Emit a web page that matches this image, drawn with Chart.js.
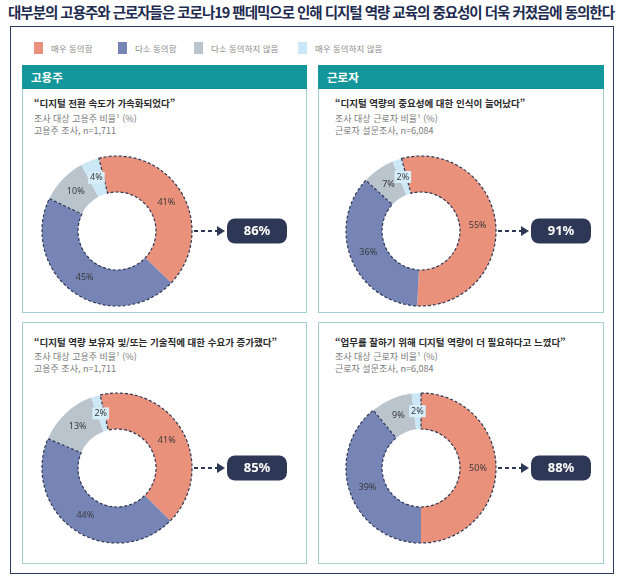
<!DOCTYPE html>
<html lang="ko">
<head>
<meta charset="utf-8">
<script src="https://cdn.jsdelivr.net/npm/chart.js@4.4.1/dist/chart.umd.min.js"></script>
<style>
  body { margin: 0; width: 628px; height: 586px; position: relative; background: #fff; font-family: 'Noto Sans CJK KR', 'Noto Sans', sans-serif; overflow: hidden; }
  #title { position: absolute; left: 8px; top: 1px; font-size: 14.5px; font-weight: bold; color: #1d2b4f; letter-spacing: 0px; white-space: nowrap; }
  #frame { position: absolute; left: 10px; top: 26px; width: 604px; height: 548px; border: 1.5px solid #2c3a5c; box-sizing: border-box; }
  .lg-sw { position: absolute; top: 42px; width: 9px; height: 12px; }
  .lg-tx { position: absolute; top: 41px; font-size: 8.5px; line-height: 14px; color: #8a8a8a; white-space: nowrap; }
  .panel { position: absolute; border: 1px solid #a3d0d2; box-sizing: border-box; }
  .head { height: 24px; background: #14979a; color: #fff; font-weight: bold; font-size: 11.5px; line-height: 24px; padding-left: 9px; margin: -1px -1px 0 -1px; }
  .q { position: absolute; font-size: 9.5px; font-weight: bold; color: #2a2a2a; line-height: 13px; white-space: nowrap; }
  .s { position: absolute; font-size: 9px; color: #7a7a7a; line-height: 12px; white-space: nowrap; }
  canvas { position: absolute; }
</style>
</head>
<body>
<div id="title">대부분의 고용주와 근로자들은 코로나19 팬데믹으로 인해 디지털 역량 교육의 중요성이 더욱 커졌음에 동의한다</div>
<div id="frame"></div>

<div class="panel" style="left:22px;top:65px;width:285px;height:248px;"><div class="head">고용주</div></div>
<div class="panel" style="left:318px;top:65px;width:286px;height:248px;"><div class="head">근로자</div></div>
<div class="panel" style="left:22px;top:322px;width:285px;height:242px;"></div>
<div class="panel" style="left:318px;top:322px;width:286px;height:242px;"></div>

<div class="q" style="left:34px;top:97px;">“디지털 전환 속도가 가속화되었다”</div>
<div class="s" style="left:34px;top:113px;">조사 대상 고용주 비율¹ (%)<br>고용주 조사, n=1,711</div>

<div class="q" style="left:335px;top:97px;">“디지털 역량의 중요성에 대한 인식이 늘어났다”</div>
<div class="s" style="left:335px;top:113px;">조사 대상 근로자 비율¹ (%)<br>근로자 설문조사, n=6,084</div>

<div class="q" style="left:34px;top:336px;">“디지털 역량 보유자 및/또는 기술직에 대한 수요가 증가했다”</div>
<div class="s" style="left:34px;top:351px;">조사 대상 고용주 비율¹ (%)<br>고용주 조사, n=1,711</div>

<div class="q" style="left:335px;top:336px;">“업무를 잘하기 위해 디지털 역량이 더 필요하다고 느꼈다”</div>
<div class="s" style="left:335px;top:351px;">조사 대상 근로자 비율¹ (%)<br>근로자 설문조사, n=6,084</div>

<canvas id="c1" width="285" height="160" style="left:22px;top:150px;"></canvas>
<canvas id="c2" width="286" height="160" style="left:318px;top:150px;"></canvas>
<canvas id="c3" width="285" height="165" style="left:22px;top:387px;"></canvas>
<canvas id="c4" width="286" height="165" style="left:318px;top:387px;"></canvas>

<script>
// ---- data ----
const categories = ['매우 동의함', '다소 동의함', '다소 동의하지 않음', '매우 동의하지 않음'];
const employerSpeed   = [41, 45, 10, 4];   // 디지털 전환 속도가 가속화되었다
const workerAwareness = [55, 36, 7, 2];    // 디지털 역량의 중요성에 대한 인식
const employerDemand  = [41, 44, 13, 2];   // 디지털 역량 보유자 수요 증가
const workerNeed      = [50, 39, 9, 2];    // 디지털 역량이 더 필요
const agreeTotals     = [86, 91, 85, 88];  // 동의 합계 (as printed)

const sliceColors = ['#E9917A', '#7685B6', '#BAC4CD', '#CCE7F6'];
const NAVY = '#2e3856';

// squeeze the title into the frame width
const title = document.getElementById('title');
const titleW = title.getBoundingClientRect().width;
title.style.letterSpacing = ((606 - titleW) / title.textContent.length) + 'px';

/* ================================================================
   LEGEND
   ================================================================ */
const legendLeft = [34, 118, 194, 298];
categories.forEach((name, i) => {
    const sw = document.createElement('div');
    sw.className = 'lg-sw';
    sw.style.left = legendLeft[i] + 'px';
    sw.style.background = sliceColors[i];
    document.body.appendChild(sw);
    const tx = document.createElement('div');
    tx.className = 'lg-tx';
    tx.style.left = (legendLeft[i] + 17) + 'px';
    tx.textContent = name;
    document.body.appendChild(tx);
});

/* ================================================================
   DONUT DECORATION: dashed outline, % labels, arrow + total box
   ================================================================ */
const donutDecor = {
    id: 'donutDecor',
    afterDatasetsDraw(chart, args, opts) {
        const ctx = chart.ctx;
        const arcs = chart.getDatasetMeta(0).data;
        const values = chart.data.datasets[0].data;
        const keys = ['x', 'y', 'startAngle', 'endAngle', 'innerRadius', 'outerRadius'];
        const a0 = arcs[0].getProps(keys, true);
        const a1 = arcs[1].getProps(keys, true);

        ctx.save();
        // dashed outline round the "agree" slices
        ctx.setLineDash([3, 2]);
        ctx.lineWidth = 1.2;
        ctx.strokeStyle = NAVY;
        ctx.beginPath();
        ctx.arc(a0.x, a0.y, a0.outerRadius, a0.startAngle, a1.endAngle);
        ctx.arc(a0.x, a0.y, a0.innerRadius, a1.endAngle, a0.startAngle, true);
        ctx.closePath();
        ctx.stroke();
        ctx.setLineDash([]);

        // percent labels
        ctx.font = '9px "Noto Sans", sans-serif';
        ctx.textAlign = 'center';
        ctx.textBaseline = 'middle';
        arcs.forEach((arc, i) => {
            const p = arc.tooltipPosition(true);
            const txt = values[i] + '%';
            if (i === 3) {
                const w = ctx.measureText(txt).width + 4;
                ctx.fillStyle = '#d6eefa';
                ctx.fillRect(p.x - w / 2, p.y - 6, w, 12);
            }
            ctx.fillStyle = '#3a3a3a';
            ctx.fillText(txt, p.x, p.y);
        });

        // arrow to the total box
        const cy = a0.y;
        const boxL = a0.x + a0.outerRadius + 35;
        const boxW = 60, boxH = 25;
        ctx.strokeStyle = NAVY;
        ctx.lineWidth = 2;
        ctx.setLineDash([4, 3]);
        ctx.beginPath();
        ctx.moveTo(a0.x + a0.outerRadius + 2, cy);
        ctx.lineTo(boxL - 9, cy);
        ctx.stroke();
        ctx.setLineDash([]);
        ctx.fillStyle = NAVY;
        ctx.beginPath();
        ctx.moveTo(boxL - 10, cy - 5);
        ctx.lineTo(boxL - 2, cy);
        ctx.lineTo(boxL - 10, cy + 5);
        ctx.closePath();
        ctx.fill();

        // total box
        ctx.beginPath();
        ctx.roundRect(boxL, cy - boxH / 2, boxW, boxH, 8);
        ctx.fill();
        ctx.fillStyle = '#fff';
        ctx.font = 'bold 13px "Noto Sans", sans-serif';
        ctx.fillText(opts.total + '%', boxL + boxW / 2, cy + 0.5);
        ctx.restore();
    }
};

/* ================================================================
   CHARTS
   ================================================================ */
function makeDonut(id, values, total, rotation, pad) {
    return new Chart(document.getElementById(id), {
        type: 'doughnut',
        data: {
            labels: categories,
            datasets: [{ data: values, backgroundColor: sliceColors, borderWidth: 0 }]
        },
        options: {
            responsive: false,
            animation: false,
            events: [],
            cutout: '52%',
            rotation: rotation,
            layout: { padding: pad },
            plugins: { legend: { display: false }, tooltip: { enabled: false }, donutDecor: { total: total } }
        },
        plugins: [donutDecor]
    });
}

makeDonut('c1', employerSpeed,   agreeTotals[0], -14, { left: 20, right: 115, top: 6, bottom: 4 });
makeDonut('c2', workerAwareness, agreeTotals[1], -15, { left: 28, right: 108, top: 6, bottom: 4 });
makeDonut('c3', employerDemand,  agreeTotals[2], -13, { left: 20, right: 115, top: 6, bottom: 9 });
makeDonut('c4', workerNeed,      agreeTotals[3],   0, { left: 28, right: 108, top: 6, bottom: 9 });
</script>
</body>
</html>
